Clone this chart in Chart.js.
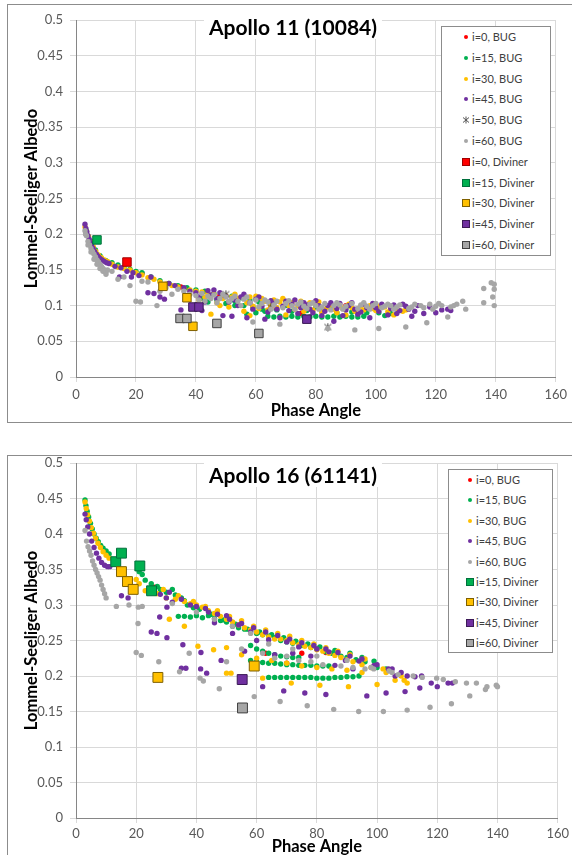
<!DOCTYPE html>
<html>
<head>
<meta charset="utf-8">
<script src="https://cdn.jsdelivr.net/npm/chart.js@4.4.0/dist/chart.umd.min.js"></script>
<style>
  body { margin: 0; width: 572px; height: 855px; position: relative; overflow: hidden; background: #fff; font-family: Lato, "Open Sans", sans-serif; }
  .frame { position: absolute; border: 1px solid #8c8c8c; box-sizing: border-box; }
  canvas { position: absolute; left: 0; }
  .title { position: absolute; background: #fff; font-weight: bold; font-size: 21px; color: #000; padding: 0 5px; white-space: nowrap; transform: translate(-50%, -50%); line-height: 24px; }
  .legend { position: absolute; background: #fff; border: 1px solid #8c8c8c; box-sizing: border-box; font-size: 11px; color: #404040; }
  .legend .item { position: absolute; left: 0; height: 14px; line-height: 14px; white-space: nowrap; transform: translateY(-50%); }
  .legend .mk { position: absolute; box-sizing: border-box; }
</style>
</head>
<body>

<div class="frame" style="left:7px; top:4px; width:570px; height:419px;"></div>
<div class="frame" style="left:7px; top:455px; width:570px; height:410px;"></div>

<canvas id="chart11" width="572" height="425" style="top:0px;"></canvas>
<canvas id="chart16" width="572" height="420" style="top:440px;"></canvas>

<div class="title" style="left:293px; top:27px;">Apollo 11 (10084)</div>
<div class="title" style="left:293px; top:475px;">Apollo 16 (61141)</div>

<div class="legend" id="legend11" style="left:441px; top:26px; width:110px; height:230px;"></div>
<div class="legend" id="legend16" style="left:448px; top:469px; width:105px; height:184px;"></div>

<script>
// axis ticks shared by both panels
const phaseTicks = [0, 20, 40, 60, 80, 100, 120, 140, 160];
const albedoTicks = [0, 0.05, 0.1, 0.15, 0.2, 0.25, 0.3, 0.35, 0.4, 0.45, 0.5];
const albedoLabels = ['0', '0.05', '0.1', '0.15', '0.2', '0.25', '0.3', '0.35', '0.4', '0.45', '0.5'];

// ---- Apollo 11 (10084) : [phase angle, albedo] ----
const a11Bug0 = [[14,0.155],[22,0.145],[35,0.126],[48,0.114],[65,0.098],[75,0.089],[90,0.1]];

const a11Bug15 = [[3.5,0.205],[5,0.19],[6.5,0.178],[8,0.17],[10,0.163],[12,0.16],[14,0.157],[16,0.153],
  [18,0.151],[20,0.148],[22,0.146],[25,0.14],[28,0.135],[31,0.131],[34,0.128],[37,0.125],[40,0.122],
  [43,0.12],[46,0.117],[49,0.115],[52,0.113],[53,0.1],[55,0.111],[58,0.108],[61,0.105],[64,0.085],
  [66,0.084],[68,0.085],[70,0.084],[72,0.085],[74,0.084],[76,0.085],[78,0.084],[80,0.085],[82,0.084],
  [84,0.084],[86,0.085],[88,0.084],[90,0.085],[92,0.084],[94,0.084],[96,0.085],[65,0.103],[70,0.1],
  [75,0.098],[80,0.098],[85,0.096],[90,0.096],[100,0.095],[103,0.086],
  [42,0.11],[44,0.105],[47,0.108],[50,0.103],[53,0.106],[56,0.1],[59,0.098],[62,0.095],[57,0.088],
  [60,0.09],[63,0.092],[67,0.094],[72,0.092],[77,0.093],[82,0.092],[87,0.09],[92,0.091],[97,0.09],
  [101,0.09],[105,0.089]];

const a11Bug30 = [[3,0.21],[3.5,0.204],[4.2,0.197],[5,0.189],[5.8,0.182],[6.6,0.176],[7.5,0.171],[8.5,0.167],
  [9.5,0.164],[10.5,0.162],[12,0.158],[14,0.154],[16,0.152],[18,0.15],[20,0.146],[22,0.143],[24,0.139],
  [26,0.137],[28,0.133],[30,0.13],[32,0.128],[34,0.126],[36,0.124],[38,0.122],[40,0.12],[42,0.119],
  [44,0.117],[45,0.088],[46,0.116],[48,0.1],[50,0.114],[52,0.112],[54,0.11],[56,0.092],[58,0.086],
  [58,0.112],[60,0.113],[62,0.11],[64,0.094],[66,0.108],[68,0.105],[70,0.087],[72,0.104],[74,0.1],
  [76,0.092],[78,0.104],[80,0.101],[82,0.09],[84,0.098],[86,0.095],[88,0.1],[90,0.087],[92,0.097],
  [95,0.099],[98,0.1],[100,0.093],[103,0.098],[106,0.087],[108,0.093],[109,0.092],[110,0.094],
  [41,0.108],[43,0.112],[47,0.104],[49,0.11],[51,0.098],[53,0.116],[57,0.104],[59,0.099],[61,0.096],
  [63,0.106],[65,0.1],[67,0.097],[69,0.11],[71,0.1],[73,0.095],[75,0.106],[77,0.098],[79,0.094],
  [81,0.105],[83,0.095],[85,0.101],[87,0.09],[89,0.096],[91,0.102],[93,0.092],[96,0.094],[99,0.096],
  [101,0.099],[104,0.091],[107,0.096]];

const a11Bug45 = [[3,0.214],[3.3,0.208],[3.6,0.203],[4,0.198],[4.4,0.193],[4.8,0.188],[5.2,0.184],[5.7,0.18],
  [6.2,0.176],[6.8,0.172],[7.4,0.169],[8,0.166],[8.7,0.164],[9.4,0.162],[10.2,0.16],[11,0.159],[13,0.155],
  [14.5,0.14],[15,0.153],[17,0.148],[18.5,0.14],[19,0.146],[21,0.142],[24,0.118],[25,0.14],[26,0.117],
  [28,0.112],[29.5,0.109],[31,0.131],[33,0.128],[35,0.094],[36,0.125],[38,0.12],[40,0.118],[42,0.093],
  [44,0.121],[45,0.115],[47,0.11],[49,0.086],[50,0.113],[52,0.085],[53,0.108],[55,0.112],[57,0.083],
  [58,0.104],[60,0.109],[62,0.099],[63,0.081],[65,0.107],[67,0.095],[68,0.083],[70,0.106],[72,0.102],
  [74,0.089],[76,0.104],[78,0.095],[80,0.107],[82,0.086],[84,0.1],[86,0.078],[88,0.103],[90,0.094],
  [92,0.104],[94,0.088],[96,0.102],[98,0.083],[100,0.097],[102,0.102],[104,0.087],[106,0.101],[108,0.093],
  [110,0.099],[112,0.085],[114,0.1],[116,0.089],[118,0.098],[120,0.09],[122,0.094],[124,0.095],[125,0.093],
  [41,0.112],[43,0.105],[46,0.122],[48,0.118],[51,0.105],[54,0.1],[56,0.116],[59,0.095],[61,0.112],
  [64,0.091],[66,0.103],[69,0.099],[71,0.093],[73,0.108],[75,0.097],[77,0.101],[79,0.09],[81,0.1],
  [83,0.092],[85,0.104],[87,0.096],[89,0.086],[91,0.1],[93,0.095],[95,0.091],[97,0.097],[99,0.103],
  [101,0.092],[105,0.096],[107,0.089],[109,0.102],[111,0.095],[113,0.092]];

const a11Bug50 = [[50,0.116],[65,0.098],[84,0.07]];

const a11Bug60 = [[3,0.205],[3.5,0.198],[4,0.19],[4.5,0.185],[5,0.18],[5.5,0.176],[6,0.172],[6.5,0.168],
  [7,0.164],[7.5,0.161],[8,0.158],[8.5,0.155],[9,0.152],[9.5,0.15],[10,0.147],[10.5,0.15],[12,0.148],
  [14,0.137],[16,0.14],[18,0.128],[20,0.106],[21.5,0.105],[22,0.134],[24,0.133],[27,0.1],[28,0.12],
  [30,0.125],[32,0.116],[34,0.123],[36,0.12],[38,0.116],[40,0.114],[42,0.117],[44,0.113],[46,0.115],
  [48,0.11],[50,0.112],[52,0.11],[54,0.106],[56,0.109],[58,0.104],[59,0.077],[60,0.108],[62,0.103],
  [64,0.105],[66,0.101],[68,0.074],[70,0.103],[72,0.1],[74,0.102],[76,0.099],[78,0.102],[80,0.1],
  [82,0.098],[84,0.068],[86,0.1],[88,0.101],[90,0.099],[93,0.066],[95,0.101],[97,0.099],[99,0.1],
  [101,0.068],[103,0.099],[105,0.1],[107,0.098],[110,0.07],[112,0.098],[115,0.1],[117,0.076],[118,0.102],
  [120,0.099],[122,0.1],[124,0.084],[127,0.102],[129,0.106],[130,0.095],[136,0.124],[136,0.104],
  [138.5,0.132],[139.5,0.13],[139.5,0.123],[139,0.112],[139.5,0.1],
  [3.2,0.2],[4,0.185],[5,0.175],[6,0.165],[7,0.158],[8,0.152],[9,0.148],[10,0.144],
  [41,0.108],[43,0.106],[45,0.11],[47,0.104],[49,0.116],[51,0.106],[53,0.113],[55,0.1],[57,0.112],
  [61,0.098],[63,0.108],[65,0.095],[67,0.106],[69,0.097],[71,0.107],[73,0.095],[75,0.105],[77,0.096],
  [79,0.104],[81,0.095],[83,0.103],[85,0.094],[87,0.104],[89,0.095],[92,0.103],[94,0.096],[96,0.104],
  [98,0.095],[100,0.103],[102,0.097],[104,0.102],[106,0.095],[108,0.101],[111,0.096],[113,0.102],
  [116,0.097],[119,0.095],[121,0.103],[125,0.098],[126,0.1]];

const a11Div0 = [[17,0.161]];
const a11Div15 = [[7,0.192]];
const a11Div30 = [[29,0.127],[37,0.111],[39,0.071]];
const a11Div45 = [[39,0.098],[41,0.098],[77,0.081]];
const a11Div60 = [[34.7,0.082],[37,0.082],[47,0.075],[61,0.061]];

// ---- Apollo 16 (61141) : [phase angle, albedo] ----
const a16Bug0 = [[26,0.325],[63,0.232],[70,0.218],[75,0.232],[83,0.233]];

const a16Bug15 = [[3,0.448],[3.3,0.44],[3.7,0.432],[4.2,0.424],[4.8,0.415],[5.4,0.407],[6,0.4],[6.7,0.394],
  [7.4,0.389],[8.2,0.384],[9,0.38],[10,0.376],[11,0.372],[21,0.347],[22,0.343],[23,0.335],[25,0.33],
  [27,0.326],[30,0.318],[32,0.322],[35,0.31],[37,0.3],[39,0.296],[34,0.284],[36,0.284],[38,0.283],
  [40,0.285],[42,0.282],[44,0.285],[46,0.281],[48,0.278],[50,0.276],[52,0.27],[54,0.268],[56,0.266],
  [58,0.263],[60,0.26],[62,0.258],[64,0.256],[66,0.254],[68,0.25],[70,0.248],[72,0.246],[75,0.243],
  [78,0.24],[80,0.238],[83,0.234],[85,0.232],[88,0.228],[90,0.226],[93,0.223],[96,0.22],[100,0.212],
  [103,0.21],[58,0.243],[60,0.238],[62,0.235],[64,0.232],[66,0.23],[68,0.228],[70,0.227],[72,0.226],
  [74,0.226],[58,0.222],[60,0.22],[62,0.219],[64,0.218],[66,0.218],[68,0.217],[70,0.216],[72,0.216],
  [74,0.215],[76,0.215],[78,0.215],[80,0.214],[82,0.214],[84,0.214],[64,0.198],[66,0.198],[68,0.198],
  [70,0.198],[72,0.198],[74,0.198],[76,0.198],[78,0.198],[80,0.197],[82,0.197],[84,0.197],[86,0.198],
  [88,0.198],[90,0.199],[92,0.199],[94,0.2],
  [28,0.322],[33,0.314],[36,0.306],[41,0.294],[45,0.287],[49,0.279],[53,0.273],[57,0.266],[61,0.262],
  [65,0.258],[69,0.254],[73,0.249],[77,0.245],[81,0.241],[86,0.236],[91,0.232],[95,0.226],[99,0.221]];

const a16Bug30 = [[3,0.445],[3.4,0.436],[3.9,0.427],[4.5,0.418],[5.1,0.409],[5.8,0.401],[6.5,0.394],
  [7.3,0.387],[8.1,0.381],[9,0.375],[10,0.37],[11,0.366],[20,0.336],[21,0.33],[23,0.32],[27,0.316],
  [30,0.31],[31,0.28],[33,0.308],[36,0.305],[36,0.27],[38,0.302],[40,0.3],[40.5,0.242],[42,0.297],
  [44,0.292],[45.7,0.237],[46,0.288],[48,0.284],[50,0.28],[50,0.204],[51.5,0.204],[52,0.276],[54,0.272],
  [56,0.268],[58,0.265],[60,0.262],[62,0.258],[62,0.197],[64,0.255],[66,0.252],[68,0.252],[70,0.25],
  [71.5,0.19],[72,0.247],[74,0.244],[76,0.242],[78,0.24],[80,0.237],[81,0.187],[82,0.235],[84,0.232],
  [86,0.229],[88,0.226],[90,0.223],[90.5,0.185],[92,0.22],[95,0.216],[98,0.212],[100,0.188],[103,0.205],
  [106,0.194],[109,0.194],[110,0.19],[50,0.24],[55,0.23],[60,0.225],[65,0.222],[70,0.218],[75,0.214],
  [80,0.212],[85,0.21],[90,0.208],[95,0.205],
  [29,0.322],[34,0.313],[39,0.305],[43,0.298],[47,0.292],[51,0.284],[55,0.278],[59,0.27],[63,0.265],
  [67,0.26],[71,0.256],[75,0.25],[79,0.245],[83,0.24],[87,0.235],[91,0.23],[96,0.224],[102,0.21],[108,0.2]];

const a16Bug45 = [[3,0.428],[3.4,0.42],[3.9,0.41],[4.5,0.4],[5.2,0.39],[6,0.381],[6.8,0.373],[7.6,0.366],
  [8.5,0.36],[9.5,0.356],[10.5,0.354],[11.2,0.354],[15.1,0.313],[17.3,0.31],[25,0.262],[26.9,0.26],
  [27.8,0.283],[28,0.315],[30,0.31],[30.2,0.297],[30.2,0.254],[32,0.304],[35,0.211],[35.5,0.244],
  [36.5,0.211],[38,0.3],[41.4,0.21],[41.5,0.233],[43.4,0.204],[44,0.29],[46,0.275],[48.2,0.222],
  [50,0.285],[52,0.26],[54,0.272],[56,0.235],[58,0.262],[60,0.25],[62,0.185],[64,0.251],[66,0.23],
  [69,0.179],[70,0.248],[72,0.232],[74,0.241],[76,0.176],[78,0.228],[80,0.238],[83,0.174],[84,0.234],
  [86,0.215],[89.5,0.222],[92,0.21],[94,0.221],[96.6,0.172],[99,0.215],[103,0.176],[103.8,0.21],
  [106,0.2],[109.3,0.178],[112.6,0.199],[114.2,0.183],[114.8,0.2],[118,0.19],[120,0.185],[123.6,0.19],
  [125,0.19],
  [31,0.318],[35,0.308],[40,0.298],[43,0.295],[47,0.287],[51,0.28],[55,0.274],[59,0.268],[63,0.262],
  [67,0.257],[71,0.252],[75,0.247],[79,0.243],[83,0.238],[87,0.233],[91,0.228],[95,0.224],[100,0.216],
  [105,0.21],[108,0.205],[110,0.2]];

const a16Bug60 = [[3,0.405],[3.5,0.39],[4,0.382],[4.5,0.376],[5,0.37],[5.5,0.362],[6,0.356],[6.5,0.35],
  [7,0.345],[7.5,0.34],[8,0.335],[8.5,0.328],[9,0.322],[9.5,0.316],[10,0.31],[13.4,0.298],[17.6,0.3],
  [20,0.233],[20.6,0.274],[20.7,0.297],[21.7,0.229],[22,0.298],[27.5,0.22],[34.4,0.206],[37.6,0.232],
  [41.2,0.197],[42.3,0.193],[47.6,0.182],[50,0.22],[55,0.238],[59.2,0.171],[62,0.232],[66,0.225],
  [67.8,0.164],[70,0.228],[74,0.222],[76.8,0.158],[78,0.22],[82,0.216],[85.6,0.153],[88,0.214],
  [92,0.212],[93.9,0.15],[96,0.21],[98.9,0.21],[102.1,0.15],[104,0.207],[107,0.202],[110,0.152],
  [112,0.2],[117.6,0.156],[119.8,0.197],[124.7,0.161],[126,0.192],[129.7,0.19],[130.8,0.172],
  [136,0.181],[136.5,0.185],[139.6,0.187],[140,0.185],
  [32,0.302],[40,0.29],[46,0.28],[52,0.27],[58,0.26],[64,0.245],[72,0.238],[80,0.228],[90,0.222],
  [98,0.212],[105,0.205],[115,0.198],[122,0.195],[133,0.19]];

const a16Div15 = [[13.2,0.361],[15.1,0.373],[21.2,0.355],[25.1,0.32]];
const a16Div30 = [[15.1,0.347],[17.1,0.333],[19,0.322],[27.2,0.198],[59.2,0.214]];
const a16Div45 = [[55.2,0.195]];
const a16Div60 = [[55.3,0.155]];

// series styles
const FONT = 'Lato, "Open Sans", sans-serif';
const styles = {
  bug0:  { kind: 'dot',  fill: '#ff0000' },
  bug15: { kind: 'dot',  fill: '#00b050' },
  bug30: { kind: 'dot',  fill: '#ffc000' },
  bug45: { kind: 'dot',  fill: '#7030a0' },
  bug50: { kind: 'star', fill: '#404040' },
  bug60: { kind: 'dot',  fill: '#a6a6a6' },
  div0:  { kind: 'sq',   fill: '#ff0000', line: '#a00000' },
  div15: { kind: 'sq',   fill: '#00b050', line: '#00703c' },
  div30: { kind: 'sq',   fill: '#ffc000', line: '#7f6000' },
  div45: { kind: 'sq',   fill: '#7030a0', line: '#3c1a57' },
  div60: { kind: 'sq',   fill: '#a6a6a6', line: '#404040' }
};

function starMarker(color, size) {
  const c = document.createElement('canvas');
  c.width = size; c.height = size;
  const g = c.getContext('2d');
  g.strokeStyle = color; g.lineWidth = 1;
  const m = size / 2;
  g.beginPath();
  g.moveTo(m, 0.5); g.lineTo(m, size - 0.5);
  g.moveTo(1, 1.5); g.lineTo(size - 1, size - 1.5);
  g.moveTo(size - 1, 1.5); g.lineTo(1, size - 1.5);
  g.stroke();
  return c;
}

function toPoints(arr) {
  return arr.map(p => ({ x: p[0], y: p[1] }));
}

function buildDatasets(series, sqRadius) {
  return series.map((s, i) => {
    const st = styles[s.style];
    const ds = { label: s.label, data: toPoints(s.data), order: series.length - i };
    if (st.kind === 'dot') {
      ds.pointStyle = 'circle'; ds.pointRadius = 2.7; ds.pointBorderWidth = 0;
      ds.backgroundColor = st.fill; ds.borderColor = st.fill;
    } else if (st.kind === 'star') {
      ds.pointStyle = starMarker(st.fill, 9); ds.pointRadius = 4;
      ds.backgroundColor = st.fill; ds.borderColor = st.fill;
    } else {
      ds.pointStyle = 'rect'; ds.pointRadius = sqRadius; ds.pointBorderWidth = 1;
      ds.backgroundColor = st.fill; ds.borderColor = st.line;
    }
    ds.pointHoverRadius = ds.pointRadius;
    return ds;
  });
}

function makeChart(id, series, geo) {
  new Chart(document.getElementById(id), {
    type: 'scatter',
    data: { datasets: buildDatasets(series, geo.sq) },
    options: {
      responsive: false,
      animation: false,
      events: [],
      layout: { padding: { left: 8, right: 12, top: geo.top, bottom: 0 } },
      plugins: { legend: { display: false }, title: { display: false }, tooltip: { enabled: false } },
      scales: {
        x: {
          type: 'linear', min: 0, max: 160,
          afterBuildTicks: s => { s.ticks = phaseTicks.map(v => ({ value: v })); },
          afterFit: s => { s.height = geo.xh; },
          grid: { color: '#d9d9d9', tickLength: 5 },
          border: { color: '#868686' },
          ticks: { color: '#595959', font: { family: FONT, size: 13 }, padding: geo.xpad, maxRotation: 0 },
          title: { display: true, text: 'Phase Angle', color: '#000',
                   font: { family: FONT, size: 16.5, weight: 'bold' }, padding: { top: 0, bottom: geo.tpad } }
        },
        y: {
          type: 'linear', min: 0, max: 0.5,
          afterBuildTicks: s => { s.ticks = albedoTicks.map(v => ({ value: v })); },
          afterFit: s => { s.width = 68; },
          grid: { color: '#d9d9d9', tickLength: 6 },
          border: { color: '#868686' },
          ticks: { color: '#595959', font: { family: FONT, size: 13 }, padding: 7,
                   callback: (v, i) => albedoLabels[i] },
          title: { display: true, text: 'Lommel-Seeliger Albedo', color: '#000',
                   font: { family: FONT, size: 16.5, weight: 'bold' }, padding: { top: 14, bottom: 0 } }
        }
      }
    }
  });
}

function makeLegend(id, series, geo) {
  const box = document.getElementById(id);
  series.forEach((s, k) => {
    const st = styles[s.style];
    const item = document.createElement('div');
    item.className = 'item';
    item.style.top = (geo.first + geo.step * k) + 'px';
    item.style.width = '100%';
    const mk = document.createElement('span');
    mk.className = 'mk';
    if (st.kind === 'dot') {
      mk.style.cssText = `left:${geo.mx - 2}px;top:5px;width:4px;height:4px;border-radius:50%;background:${st.fill};`;
      item.appendChild(mk);
    } else if (st.kind === 'star') {
      const c = starMarker('#555', 8);
      c.style.cssText = `position:absolute;left:${geo.mx - 4}px;top:3px;`;
      item.appendChild(c);
    } else {
      mk.style.cssText = `left:${geo.mx - 4}px;top:3px;width:8px;height:8px;background:${st.fill};border:1px solid ${st.line};`;
      item.appendChild(mk);
    }
    const t = document.createElement('span');
    t.textContent = s.label;
    t.style.cssText = `position:absolute;left:${geo.tx}px;top:0;`;
    item.appendChild(t);
    box.appendChild(item);
  });
}

const series11 = [
  { label: 'i=0, BUG', data: a11Bug0, style: 'bug0' },
  { label: 'i=15, BUG', data: a11Bug15, style: 'bug15' },
  { label: 'i=30, BUG', data: a11Bug30, style: 'bug30' },
  { label: 'i=45, BUG', data: a11Bug45, style: 'bug45' },
  { label: 'i=50, BUG', data: a11Bug50, style: 'bug50' },
  { label: 'i=60, BUG', data: a11Bug60, style: 'bug60' },
  { label: 'i=0, Diviner', data: a11Div0, style: 'div0' },
  { label: 'i=15, Diviner', data: a11Div15, style: 'div15' },
  { label: 'i=30, Diviner', data: a11Div30, style: 'div30' },
  { label: 'i=45, Diviner', data: a11Div45, style: 'div45' },
  { label: 'i=60, Diviner', data: a11Div60, style: 'div60' }
];

const series16 = [
  { label: 'i=0, BUG', data: a16Bug0, style: 'bug0' },
  { label: 'i=15, BUG', data: a16Bug15, style: 'bug15' },
  { label: 'i=30, BUG', data: a16Bug30, style: 'bug30' },
  { label: 'i=45, BUG', data: a16Bug45, style: 'bug45' },
  { label: 'i=60, BUG', data: a16Bug60, style: 'bug60' },
  { label: 'i=15, Diviner', data: a16Div15, style: 'div15' },
  { label: 'i=30, Diviner', data: a16Div30, style: 'div30' },
  { label: 'i=45, Diviner', data: a16Div45, style: 'div45' },
  { label: 'i=60, Diviner', data: a16Div60, style: 'div60' }
];

makeChart('chart11', series11, { top: 20, xh: 48, xpad: 5, tpad: 4, sq: 6 });
makeChart('chart16', series16, { top: 23, xh: 42, xpad: 3, tpad: 3, sq: 7 });

makeLegend('legend11', series11, { first: 10, step: 20.8, mx: 24, tx: 30 });
makeLegend('legend16', series16, { first: 10, step: 20.4, mx: 21, tx: 27 });
</script>
</body>
</html>
